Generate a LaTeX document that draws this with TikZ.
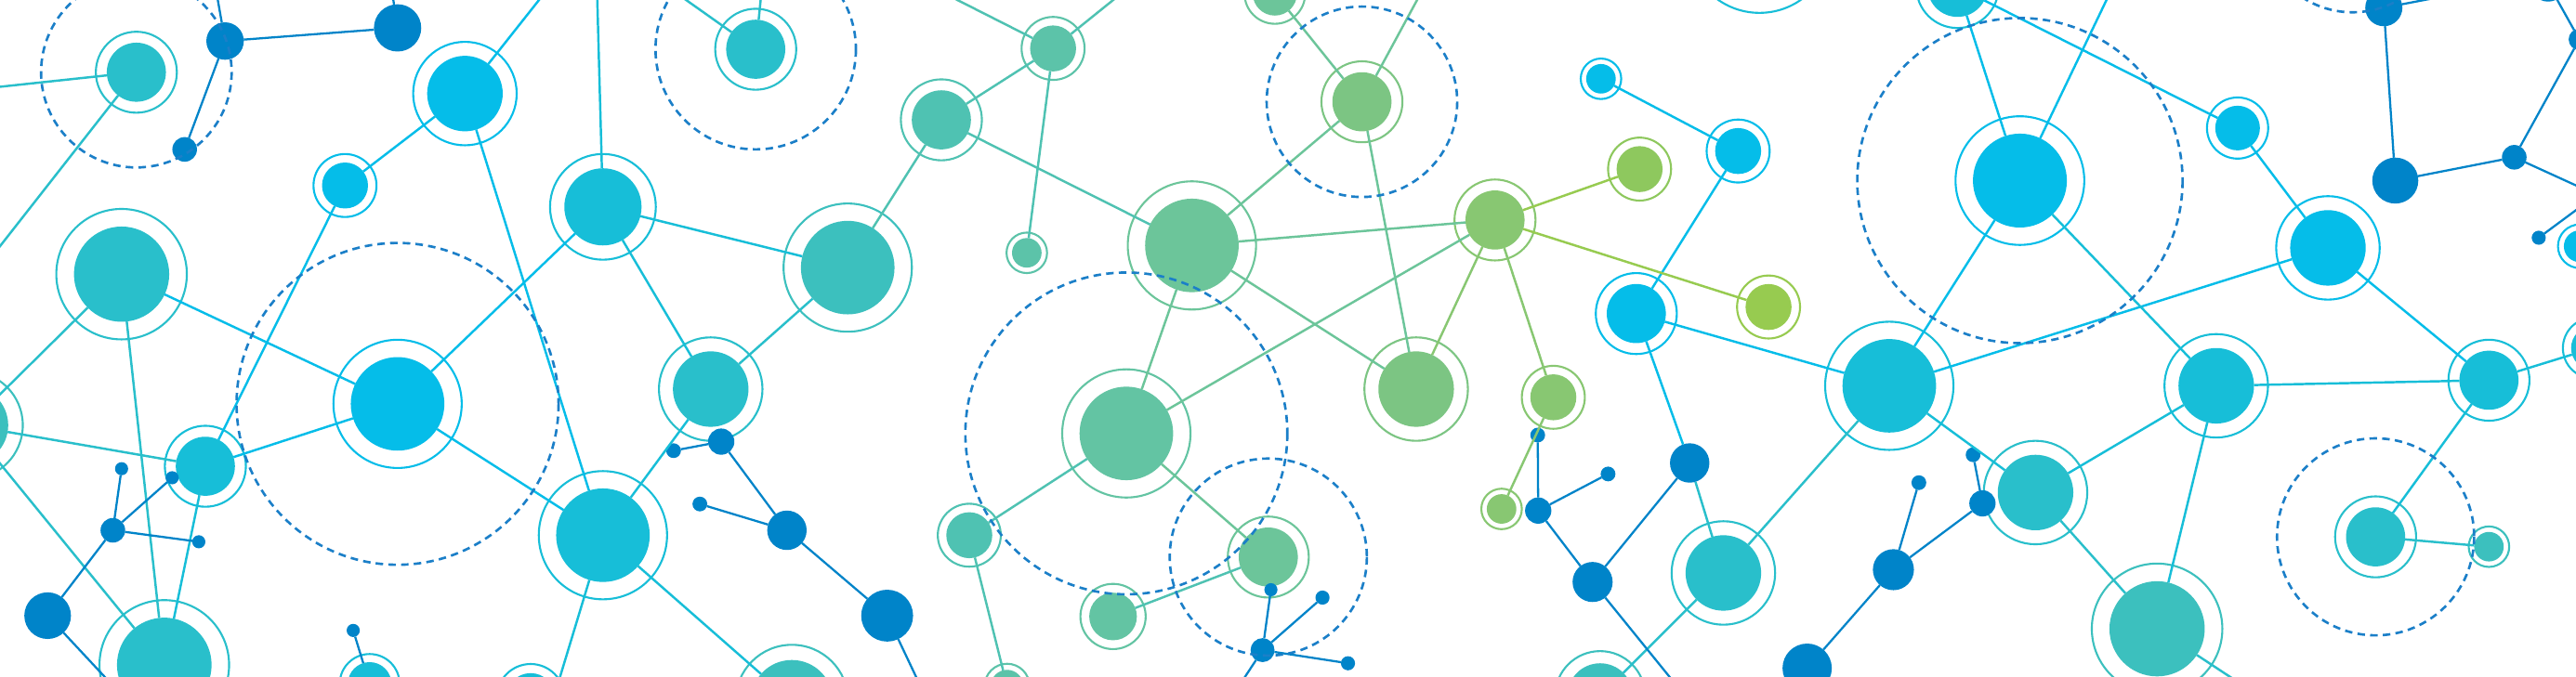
\documentclass[tikz,border=0pt]{standalone}
\usepackage{tikz}
\definecolor{cya}{HTML}{05BDE9}
\definecolor{cyb}{HTML}{17BED8}
\definecolor{tla}{HTML}{29BFCB}
\definecolor{tlb}{HTML}{3CC0BE}
\definecolor{sea}{HTML}{4FC2B2}
\definecolor{seb}{HTML}{5CC3A9}
\definecolor{sec}{HTML}{63C4A3}
\definecolor{gra}{HTML}{6CC59A}
\definecolor{grb}{HTML}{7CC583}
\definecolor{grc}{HTML}{88C772}
\definecolor{lma}{HTML}{8EC85E}
\definecolor{lim}{HTML}{97CB50}
\definecolor{netdark}{HTML}{0084C9}
\definecolor{netdash}{HTML}{1B7FC8}
\tikzset{
  hub/.style={circle,inner sep=0pt,outer sep=0pt,draw=none},
  atom/.style={circle,inner sep=0pt,outer sep=0pt,draw=none,fill=netdark},
  ring/.style={line width=0.6pt},
  link/.style={line width=0.7pt},
  darklink/.style={line width=0.65pt,draw=netdark},
  orbit/.style={line width=0.75pt,draw=netdash,dash pattern=on 2.3pt off 1.6pt}
}

\begin{document}
\begin{tikzpicture}[x=0.017679cm,y=-0.017679cm]
  \useasboundingbox (0,0) rectangle (1568,412.3);
  \fill[white] (0,0) rectangle (1568,412.3);
  \clip (0,0) rectangle (1568,412.3);
  % coloured hubs, each with its ring
  \foreach \nm/\x/\y/\r/\c in {
    h1/83/44/18/tla, h2/283/57/23/cya, h3/210/113/14/cya, h4/367/126/23.5/cyb,
    h5/242/246/28.5/cya, h6/74/167/29/tla, h7/-19/259/24/tlb, h8/125/284/18/cyb,
    h9/100/405/28.8/tla, h10/225/416.6/13.3/cyb, h11/367/326/28.5/cyb, h12/323/425/15/cyb,
    h13/460/30/18/tla, h14/573/73/18/sea, h15/641/29.5/14/seb, h16/625/154/9/seb,
    h17/516/163/28.5/tlb, h18/432.6/237/23/tla, h19/482/427/25/tlb, h20/725.5/149.5/28.5/gra,
    h21/685.6/264/28.5/sec, h22/590/326/14/sea, h23/613/418/10/seb, h24/772/339.3/18/gra,
    h25/677.5/375.5/14.5/sec, h26/776/-4/13.5/gra, h27/829/62/18/grb, h28/862/237/23/grb,
    h29/910/134/18/grc, h30/998/103/14/lma, h31/1076.5/187/14/lim, h32/945.5/242/14/grc,
    h33/914/310/9/grc, h34/996/191/18/cya, h35/1058/92/14/cya, h36/974.5/48/9/cya,
    h37/1049/349/23/tla, h38/974/424/20/tlb, h39/1071/-36/32/cyb, h40/1150/235/28.5/cyb,
    h41/1239/300/23/tla, h42/1229.5/110/28.6/cya, h43/1191.5/-8/18.3/cyb, h44/1349/235/23/cyb,
    h45/1362/78/13.6/cya, h46/1417/151/23/cya, h47/1515/231.6/18/cyb, h48/1313/383/29/tlb,
    h49/1446/327/18/tla, h50/1515/333/9/tlb, h51/1578.5/212/13.5/cyb, h52/1570.3/150/9.7/cya}{
    \node[hub,fill=\c,minimum size=\r*0.035358cm] (\nm) at (\x,\y) {};
    \draw[ring,draw=\c] (\nm.center) circle (1.37*\r);
  }
  % small dark atoms
  \foreach \nm/\x/\y/\r in {
    a1/137/25/11.4, a2/242/17/14.4, a3/112.4/91/7.5, a4/74/285.5/4,
    a5/68.7/323/7.5, a6/104.8/291/4, a7/121/330/4, a8/29/375/14.2,
    a9/215/384/4, a10/410/274.5/4.5, a11/439/269/8, a12/479/323/12,
    a13/426/307/4.5, a14/540/375/15.8, a15/773.6/359.2/4, a16/768.5/396/7.3,
    a17/805/364/4.3, a18/820.5/404/4.3, a19/936/265/4.5, a20/936.3/311/8,
    a21/978.8/288.7/4.5, a22/969.4/354.5/12.2, a23/1028.5/282/12, a24/1168/294/4.5,
    a25/1152.5/347/12.5, a26/1100/407/15, a27/1201/277/4.5, a28/1206.7/306.6/8,
    a29/1451/4.7/11.3, a30/1458/110/14, a31/1530.4/95.8/7.5, a32/1570/24/6.5,
    a33/1551/-10/11, a34/1545.3/144.8/4.3}{
    \node[atom,minimum size=\r*0.035358cm] (\nm) at (\x,\y) {};
  }
  % loose ends beyond the frame
  \foreach \nm/\x/\y in {
    o1/-20/55, o2/-20/175.5, o3/130.8/-10, o4/237.9/-10, o5/336/-10, o6/363.3/-10,
    o7/75.6/425, o8/332.5/440, o9/464/-10, o10/403.5/-10, o11/690/-10, o12/563/-10,
    o13/566/430, o14/746.2/430, o15/868/-10, o16/1030.6/430, o17/1287/-10,
    o18/1376.7/425, o19/1502/-5, o20/1590/123, o21/1590/111.7}{
    \coordinate (\nm) at (\x,\y);
  }
  % links
  \foreach \a/\b in {h2/o5, h2/h3, h2/h11, h3/h8, h5/h6, h5/h8, h5/h11, h5/h4,
    h34/h35, h35/h36, h34/h40, a23/h34, h40/h42, h40/h46, h42/h43, h42/o17,
    h43/h45, h45/h46, h46/h47}
    \draw[link,draw=cya] (\a) -- (\b);
  \foreach \a/\b in {h4/o6, h4/h17, h4/h18, h11/h18, h11/o8, h11/h19, h8/h9,
    h40/h41, h42/h44, h44/h47, h44/h41, h44/h48, h47/h51, h47/h49}
    \draw[link,draw=cyb] (\a) -- (\b);
  \foreach \a/\b in {h1/o1, h1/o2, h6/h7, h6/h9, h7/h8, h7/h9, h13/o9, h13/o10,
    h17/h18, a23/h37, h37/h40, h37/h38, h41/h48, h48/o18, h49/h50}
    \draw[link,draw=tla] (\a) -- (\b);
  \foreach \a/\b in {h15/o11, h15/o12, h15/h14, h15/h16, h14/h17, h14/h20,
    h21/h22, h22/h23, h24/h25}
    \draw[link,draw=sea] (\a) -- (\b);
  \foreach \a/\b in {h20/h27, h20/h29, h20/h28, h20/h21, h21/h29, h21/h24,
    h26/h27, h27/o15, h27/h28}
    \draw[link,draw=gra] (\a) -- (\b);
  \foreach \a/\b in {h29/h28, h29/h32, h32/h33}
    \draw[link,draw=grc] (\a) -- (\b);
  \foreach \a/\b in {h29/h30, h29/h31}
    \draw[link,draw=lim] (\a) -- (\b);
  \foreach \a/\b in {a1/a2, a1/a3, a1/o3, a2/o4, a4/a5, a5/a6, a5/a7, a5/a8, a8/o7,
    a9/h10, a10/a11, a11/a12, a12/a13, a12/a14, a14/o13, a15/a16, a16/a17, a16/a18,
    a16/o14, a19/a20, a20/a21, a20/a22, a22/a23, a22/o16, a24/a25, a25/a26,
    a25/a28, a28/a27, a29/a30, a29/o19, a30/a31, a31/a32, a32/a33, a31/o20, a34/o21}
    \draw[darklink] (\a) -- (\b);
  % dashed orbits
  \draw[orbit] (h1.center) circle (58);
  \draw[orbit] (h5.center) circle (98);
  \draw[orbit] (h13.center) circle (61);
  \draw[orbit] (h21.center) circle (98);
  \draw[orbit] (h24.center) circle (60);
  \draw[orbit] (h27.center) circle (58);
  \draw[orbit] (h42.center) circle (99);
  \draw[orbit] (h49.center) circle (60);
  \draw[orbit] (1432,-48.5) circle (56);
\end{tikzpicture}
\end{document}
